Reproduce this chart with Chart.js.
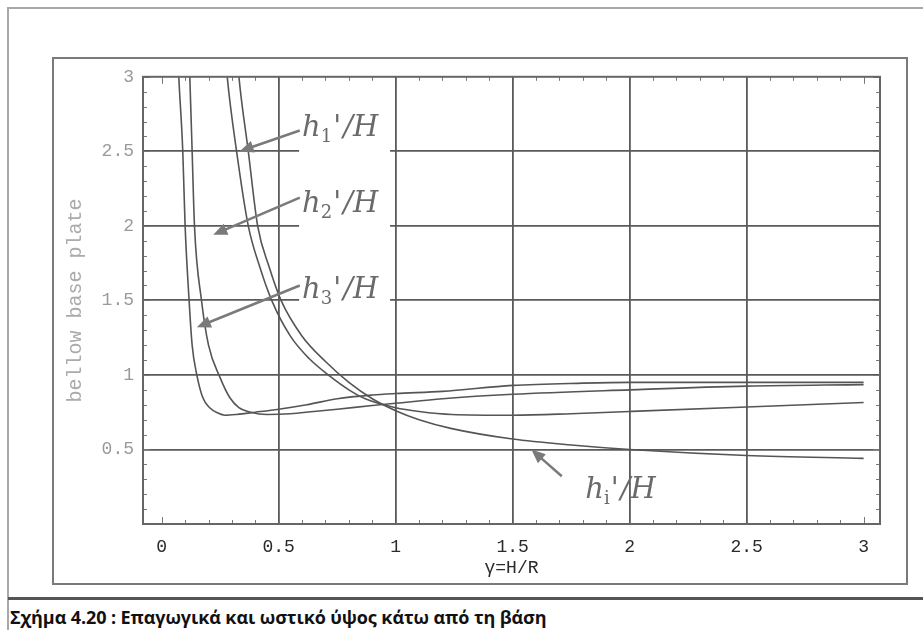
<!DOCTYPE html>
<html>
<head>
<meta charset="utf-8">
<script src="https://cdn.jsdelivr.net/npm/chart.js@4"></script>
<style>
  html, body { margin: 0; padding: 0; background: #fff; }
  body { width: 923px; height: 630px; position: relative; overflow: hidden; }
  .page { position: absolute; left: 7px; top: 7px; right: -4px; bottom: -4px; border: 2px solid #a8a8a8; }
  .box { position: absolute; left: 52px; top: 57px; width: 852px; height: 524px; border: 2px solid #7a7a7a; }
  #plot { position: absolute; left: 52px; top: 57px; }
  .rule { position: absolute; left: 8px; right: 0; top: 597px; height: 3px; background: #555; }
  .caption { position: absolute; left: 10px; top: 605px; font: bold 18px "Open Sans", sans-serif; color: #111; letter-spacing: -0.1px; }
</style>
</head>
<body>
<div class="page"></div>
<div class="box"></div>
<canvas id="plot" width="854" height="526"></canvas>
<div class="rule"></div>
<div class="caption">Σχήμα 4.20 : Επαγωγικά και ωστικό ύψος κάτω από τη βάση</div>
<script>
// curve values, read as (γ, h/H) pairs
const h1X = [0.068, 0.073, 0.09, 0.10, 0.117, 0.13, 0.15, 0.175, 0.205, 0.24, 0.27, 0.32, 0.40, 0.50, 0.62, 0.75, 0.90, 1.0, 1.2, 1.5, 1.8, 2.0, 2.5, 3.0];
const h1Y = [3.2, 3.0, 2.5, 2.0, 1.5, 1.2, 1.0, 0.85, 0.78, 0.745, 0.73, 0.735, 0.75, 0.77, 0.80, 0.84, 0.865, 0.875, 0.89, 0.93, 0.945, 0.95, 0.95, 0.95];

const h2X = [0.115, 0.12, 0.13, 0.14, 0.17, 0.20, 0.25, 0.29, 0.33, 0.38, 0.45, 0.55, 0.65, 0.75, 0.90, 1.0, 1.2, 1.5, 2.0, 2.5, 3.0];
const h2Y = [3.2, 3.0, 2.5, 2.0, 1.5, 1.2, 0.98, 0.85, 0.78, 0.75, 0.735, 0.74, 0.755, 0.77, 0.795, 0.81, 0.84, 0.87, 0.90, 0.925, 0.935];

const h3X = [0.27, 0.28, 0.32, 0.37, 0.42, 0.47, 0.55, 0.63, 0.72, 0.80, 0.87, 1.0, 1.1, 1.24, 1.5, 1.75, 2.0, 2.5, 3.0];
const h3Y = [3.2, 3.0, 2.5, 2.0, 1.72, 1.5, 1.26, 1.11, 0.99, 0.90, 0.84, 0.78, 0.755, 0.735, 0.73, 0.74, 0.755, 0.785, 0.815];

const hiX = [0.32, 0.33, 0.37, 0.41, 0.46, 0.51, 0.60, 0.70, 0.80, 0.90, 1.0, 1.1, 1.24, 1.5, 1.75, 2.0, 2.5, 3.0];
const hiY = [3.2, 3.0, 2.5, 2.0, 1.72, 1.5, 1.26, 1.09, 0.95, 0.84, 0.76, 0.70, 0.64, 0.57, 0.53, 0.50, 0.46, 0.44];

const xTicks = [0, 0.5, 1, 1.5, 2, 2.5, 3];
const yTicks = [0.5, 1, 1.5, 2, 2.5, 3];
const gridLines = [0.5, 1, 1.5, 2, 2.5];

// curve labels: subscript, label anchor, arrow tail and tip (data units)
const notes = [
  { sub: '1', at: [0.60, 2.65], from: [0.59, 2.64], to: [0.333, 2.50], box: true },
  { sub: '2', at: [0.60, 2.14], from: [0.59, 2.19], to: [0.22, 1.94], box: true },
  { sub: '3', at: [0.60, 1.56], from: [0.59, 1.60], to: [0.15, 1.32], box: true },
  { sub: 'i', at: [1.81, 0.22], from: [1.71, 0.32], to: [1.58, 0.50], box: false }
];

const pts = (xs, ys) => xs.map((v, i) => ({ x: v, y: ys[i] }));

const curve = (xs, ys) => ({
  data: pts(xs, ys),
  showLine: true,
  borderColor: '#555',
  borderWidth: 1.6,
  pointRadius: 0,
  cubicInterpolationMode: 'monotone',
  fill: false
});

const frame = {
  id: 'frame',
  afterDatasetsDraw(chart) {
    const { ctx, chartArea: a, scales: { x, y } } = chart;
    ctx.save();
    ctx.strokeStyle = '#777';
    ctx.lineWidth = 1;
    ctx.beginPath();
    for (let i = 0; i <= 30; i++) {
      const px = Math.round(x.getPixelForValue(i / 10)) + 0.5;
      const len = i % 5 ? 4 : 7;
      ctx.moveTo(px, a.bottom); ctx.lineTo(px, a.bottom - len);
      ctx.moveTo(px, a.top); ctx.lineTo(px, a.top + len);
    }
    for (let i = 1; i <= 30; i++) {
      const py = Math.round(y.getPixelForValue(i / 10)) + 0.5;
      const len = i % 5 ? 4 : 7;
      ctx.moveTo(a.left, py); ctx.lineTo(a.left + len, py);
      ctx.moveTo(a.right, py); ctx.lineTo(a.right - len, py);
    }
    ctx.stroke();
    ctx.strokeStyle = '#666';
    ctx.lineWidth = 2;
    ctx.strokeRect(a.left, a.top, a.width, a.height);
    ctx.restore();
  }
};

const labels = {
  id: 'labels',
  afterDatasetsDraw(chart) {
    const { ctx, scales: { x, y } } = chart;
    ctx.save();
    notes.forEach(n => {
      const lx = x.getPixelForValue(n.at[0]);
      const ly = y.getPixelForValue(n.at[1]);
      if (n.box) {
        ctx.fillStyle = '#fff';
        ctx.fillRect(lx - 3, ly - 19, 91, 45);
      }
      // arrow shaft and head
      const fx = x.getPixelForValue(n.from[0]), fy = y.getPixelForValue(n.from[1]);
      const tx = x.getPixelForValue(n.to[0]), ty = y.getPixelForValue(n.to[1]);
      const ang = Math.atan2(ty - fy, tx - fx);
      ctx.strokeStyle = '#7a7a7a';
      ctx.fillStyle = '#7a7a7a';
      ctx.lineWidth = 2.5;
      ctx.beginPath();
      ctx.moveTo(fx, fy);
      ctx.lineTo(tx - 10 * Math.cos(ang), ty - 10 * Math.sin(ang));
      ctx.stroke();
      ctx.beginPath();
      ctx.moveTo(tx, ty);
      ctx.lineTo(tx - 14 * Math.cos(ang) + 6 * Math.sin(ang), ty - 14 * Math.sin(ang) - 6 * Math.cos(ang));
      ctx.lineTo(tx - 14 * Math.cos(ang) - 6 * Math.sin(ang), ty - 14 * Math.sin(ang) + 6 * Math.cos(ang));
      ctx.closePath();
      ctx.fill();
      // h_k'/H
      ctx.fillStyle = '#6a6a6a';
      ctx.textBaseline = 'alphabetic';
      ctx.textAlign = 'left';
      let cx = lx;
      const base = ly + 7;
      ctx.font = 'italic 29px "DejaVu Serif"';
      ctx.fillText('h', cx, base);
      cx += ctx.measureText('h').width;
      ctx.font = '18px "DejaVu Serif"';
      ctx.fillText(n.sub, cx, base + 6);
      cx += ctx.measureText(n.sub).width + 1;
      ctx.font = 'italic 29px "DejaVu Serif"';
      ctx.fillText("'", cx, base);
      cx += ctx.measureText("'").width + 2;
      ctx.fillText('/H', cx, base);
    });
    ctx.restore();
  }
};

new Chart(document.getElementById('plot'), {
  type: 'scatter',
  data: {
    datasets: [curve(h1X, h1Y), curve(h2X, h2Y), curve(h3X, h3Y), curve(hiX, hiY)]
  },
  options: {
    animation: false,
    responsive: false,
    devicePixelRatio: 1,
    layout: { padding: { left: 0, top: 15, right: 26, bottom: 0 } },
    plugins: { legend: { display: false }, tooltip: { enabled: false } },
    scales: {
      x: {
        type: 'linear',
        min: -0.08,
        max: 3.07,
        afterBuildTicks: s => { s.ticks = xTicks.map(v => ({ value: v })); },
        afterFit: s => { s.height = 59; },
        border: { display: false },
        grid: {
          drawTicks: false,
          lineWidth: 1.8,
          color: c => gridLines.includes(c.tick.value) ? '#5a5a5a' : 'rgba(0,0,0,0)'
        },
        ticks: {
          padding: 12,
          color: '#2a2a2a',
          font: { family: '"Liberation Mono", monospace', size: 18 },
          callback: v => String(v)
        },
        title: {
          display: true,
          text: 'γ=H/R',
          color: '#2a2a2a',
          padding: { top: 0, bottom: 4 },
          font: { family: '"Liberation Mono", monospace', size: 18 }
        }
      },
      y: {
        type: 'linear',
        min: 0,
        max: 3,
        afterBuildTicks: s => { s.ticks = yTicks.map(v => ({ value: v })); },
        afterFit: s => { s.width = 91; },
        border: { display: false },
        grid: {
          drawTicks: false,
          lineWidth: 1.8,
          color: c => gridLines.includes(c.tick.value) ? '#5a5a5a' : 'rgba(0,0,0,0)'
        },
        ticks: {
          padding: 9,
          color: '#9a9a9a',
          font: { family: '"Liberation Mono", monospace', size: 18 },
          callback: v => String(v)
        },
        title: {
          display: true,
          text: 'bellow base plate',
          color: '#ababab',
          padding: { top: 12, bottom: 0 },
          font: { family: '"Liberation Mono", monospace', size: 20 }
        }
      }
    }
  },
  plugins: [frame, labels]
});
</script>
</body>
</html>
